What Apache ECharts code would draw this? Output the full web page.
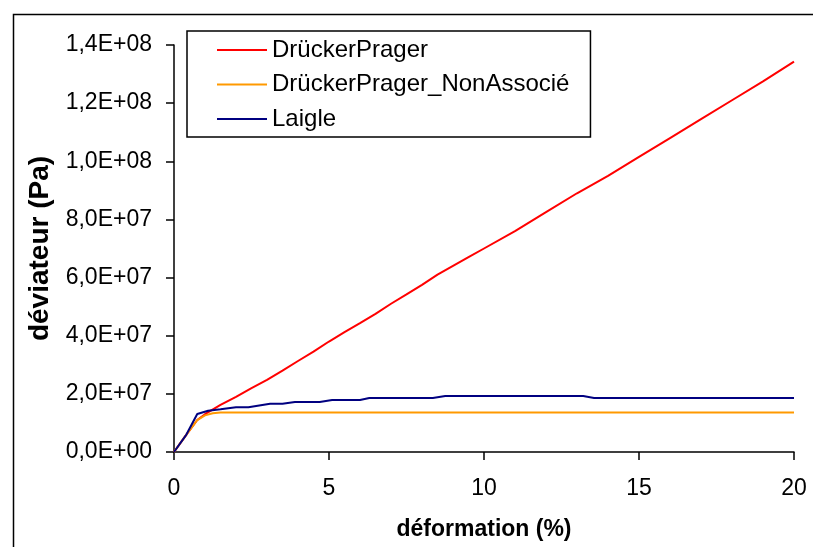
<!DOCTYPE html>
<html>
<head>
<meta charset="utf-8">
<script src="https://cdn.jsdelivr.net/npm/echarts@6/dist/echarts.min.js"></script>
<style>
html,body{margin:0;padding:0;background:#fff;}
#chart{width:813px;height:547px;}
</style>
</head>
<body>
<div id="chart"></div>
<script>
// Strain (%) and deviator (Pa) values
const dpStrain = [0, 0.4, 0.75, 1.0, 1.5, 2, 2.5, 3, 3.5, 4, 4.5, 5, 5.5, 6, 6.5, 7, 7.5, 8, 8.5, 9, 9.5, 10, 11, 12, 13, 14, 15, 16, 17, 18, 19, 20];
const dpStress = [0, 0.6e7, 1.1e7, 1.3e7, 1.62e7, 1.9e7, 2.2e7, 2.48e7, 2.8e7, 3.13e7, 3.45e7, 3.8e7, 4.12e7, 4.43e7, 4.75e7, 5.1e7, 5.42e7, 5.75e7, 6.1e7, 6.4e7, 6.7e7, 7.0e7, 7.6e7, 8.25e7, 8.9e7, 9.5e7, 10.15e7, 10.8e7, 11.45e7, 12.1e7, 12.75e7, 13.43e7];

const dpnaStrain = [0, 0.4, 0.75, 1.0, 1.25, 1.5, 2, 5, 10, 15, 20];
const dpnaStress = [0, 0.6e7, 1.1e7, 1.26e7, 1.33e7, 1.36e7, 1.36e7, 1.36e7, 1.36e7, 1.36e7, 1.36e7];

const laigleStrain = [0, 0.4, 0.75, 1.1, 1.5, 2.0, 2.4, 3.1, 3.5, 3.9, 4.7, 5.1, 6.0, 6.3, 8.35, 8.75, 13.2, 13.55, 20];
const laigleStress = [0, 0.6e7, 1.31e7, 1.42e7, 1.47e7, 1.54e7, 1.54e7, 1.66e7, 1.66e7, 1.72e7, 1.72e7, 1.79e7, 1.79e7, 1.86e7, 1.86e7, 1.93e7, 1.93e7, 1.86e7, 1.86e7];

const seriesNames = ['DrückerPrager', 'DrückerPrager_NonAssocié', 'Laigle'];
const xTicks = {min: 0, max: 20, interval: 5};
const yTicks = {min: 0, max: 1.4e8, interval: 2e7};

function zip(xs, ys){ return xs.map((x,i)=>[x, ys[i]]); }
function sci(v){
  if (v === 0) return '0,0E+00';
  const e = Math.floor(Math.log10(v) + 1e-9);
  let m = (v / Math.pow(10, e)).toFixed(1).replace('.', ',');
  return m + 'E+' + (e < 10 ? '0' + e : '' + e);
}

const font = 'Liberation Sans, Arial, sans-serif';
const chart = echarts.init(document.getElementById('chart'), null, {renderer: 'canvas'});
chart.setOption({
  backgroundColor: '#fff',
  animation: false,
  graphic: [{
    type: 'rect', left: 11, top: 12, z: -1,
    shape: {x: 0, y: 0, width: 900, height: 600},
    style: {fill: 'none', stroke: '#000', lineWidth: 1.5}
  }],
  grid: {left: 174, right: 19, top: 45, bottom: 95, containLabel: false},
  legend: {
    orient: 'vertical', left: 187, top: 31,
    padding: [6.5, 21, 5.5, 30],
    icon: 'rect',
    itemWidth: 50, itemHeight: 2, itemGap: 9.5,
    borderColor: '#000', borderWidth: 1.5, backgroundColor: '#fff',
    textStyle: {fontFamily: font, fontSize: 24, color: '#000', lineHeight: 25},
    data: seriesNames
  },
  xAxis: {
    type: 'value', min: xTicks.min, max: xTicks.max, interval: xTicks.interval,
    name: 'déformation (%)', nameLocation: 'middle', nameGap: 66,
    nameTextStyle: {fontFamily: font, fontSize: 23, fontWeight: 'bold', color: '#000'},
    axisLine: {show: true, onZero: false, lineStyle: {color: '#000', width: 1.5}},
    axisTick: {show: true, inside: false, length: 8, lineStyle: {color: '#000', width: 1.5}},
    axisLabel: {margin: 25, fontFamily: font, fontSize: 23, color: '#000'},
    splitLine: {show: false}
  },
  yAxis: {
    type: 'value', min: yTicks.min, max: yTicks.max, interval: yTicks.interval,
    name: 'déviateur (Pa)', nameLocation: 'middle', nameGap: 120, nameRotate: 90,
    nameTextStyle: {fontFamily: font, fontSize: 28, fontWeight: 'bold', color: '#000'},
    axisLine: {show: true, lineStyle: {color: '#000', width: 1.5}},
    axisTick: {show: true, inside: false, length: 8, lineStyle: {color: '#000', width: 1.5}},
    axisLabel: {margin: 22, fontFamily: font, fontSize: 23, color: '#000', formatter: sci},
    splitLine: {show: false}
  },
  series: [
    {name: seriesNames[0], type: 'line', data: zip(dpStrain, dpStress), symbol: 'none', color: '#FF0000', lineStyle: {width: 2, color: '#FF0000'}, z: 2},
    {name: seriesNames[1], type: 'line', data: zip(dpnaStrain, dpnaStress), symbol: 'none', color: '#FF9900', lineStyle: {width: 2, color: '#FF9900'}, z: 3},
    {name: seriesNames[2], type: 'line', data: zip(laigleStrain, laigleStress), symbol: 'none', color: '#000080', lineStyle: {width: 2, color: '#000080'}, z: 4}
  ]
});
</script>
</body>
</html>
